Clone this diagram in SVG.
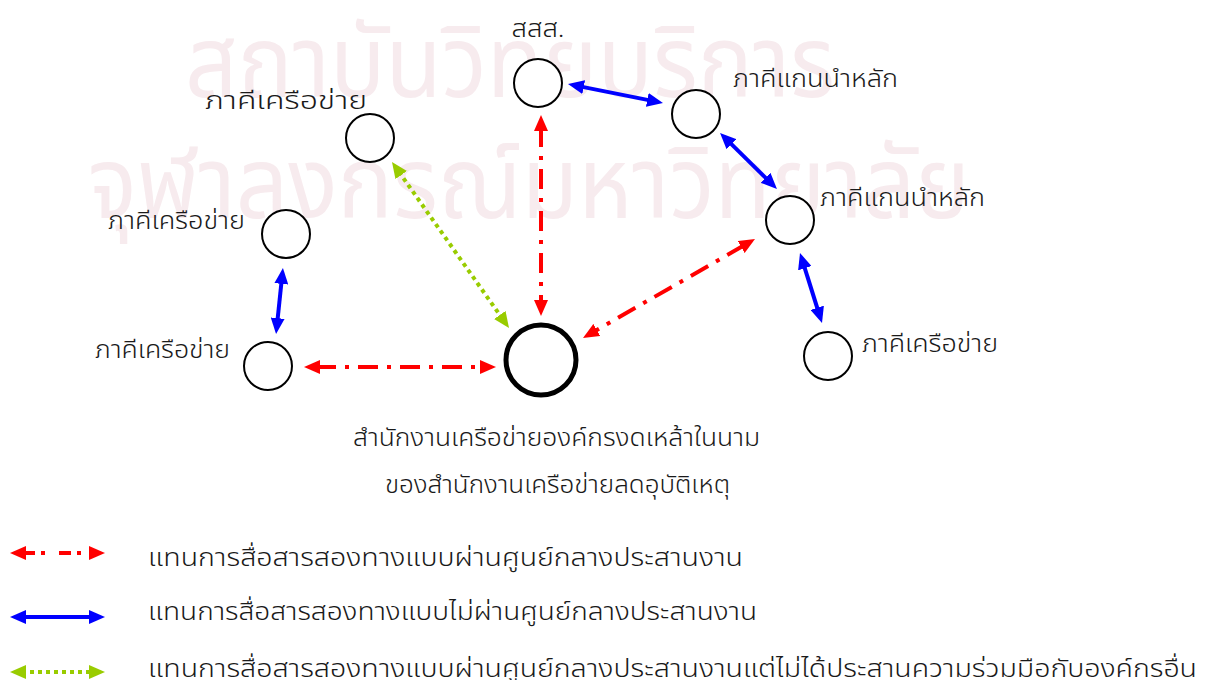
<svg xmlns="http://www.w3.org/2000/svg" width="1215" height="680" viewBox="0 0 1215 680">
<style>
text{font-family:"Noto Sans Thai","Loma","Garuda","Noto Sans","DejaVu Sans",sans-serif;fill:#1a1a1a;font-size:24px;font-weight:300}
.wm{fill:#f7ebee;font-size:100px;font-weight:400}
.n{fill:#fff;stroke:#000;stroke-width:2}
.big{fill:#fff;stroke:#000;stroke-width:5}
.red{stroke:#ff0000;stroke-width:4;fill:none;stroke-dasharray:20 9 4 9}
.blue{stroke:#0000ff;stroke-width:4;fill:none}
.green{stroke:#99cc00;stroke-width:4;fill:none;stroke-dasharray:4 4}
</style>
<defs>
<marker id="hr" viewBox="0 0 16 14" refX="4" refY="7" markerWidth="16" markerHeight="14" markerUnits="userSpaceOnUse" orient="auto-start-reverse"><path d="M0,0 L16,7 L0,14 z" fill="#ff0000"/></marker>
<marker id="hb" viewBox="0 0 16 14" refX="4" refY="7" markerWidth="16" markerHeight="14" markerUnits="userSpaceOnUse" orient="auto-start-reverse"><path d="M0,0 L16,7 L0,14 z" fill="#0000ff"/></marker>
<marker id="hg" viewBox="0 0 16 14" refX="4" refY="7" markerWidth="16" markerHeight="14" markerUnits="userSpaceOnUse" orient="auto-start-reverse"><path d="M0,0 L16,7 L0,14 z" fill="#99cc00"/></marker>
</defs>
<rect width="1215" height="680" fill="#fff"/>
<g id="watermark">
<text class="wm" x="185" y="97" textLength="650" lengthAdjust="spacingAndGlyphs">สถาบันวิทยบริการ</text>
<text class="wm" x="88" y="218" textLength="882" lengthAdjust="spacingAndGlyphs">จุฬาลงกรณ์มหาวิทยาลัย</text>
</g>
<g id="connectors">
<line class="red" x1="541" y1="127" x2="541" y2="304" marker-start="url(#hr)" marker-end="url(#hr)"/>
<line class="red" x1="316" y1="367" x2="484" y2="367" marker-start="url(#hr)" marker-end="url(#hr)"/>
<line class="red" x1="744.6" y1="245" x2="593.4" y2="332" marker-start="url(#hr)" marker-end="url(#hr)"/>
<line class="blue" x1="579.8" y1="86.4" x2="651.2" y2="100.6" marker-start="url(#hb)" marker-end="url(#hb)"/>
<line class="blue" x1="728.6" y1="141.4" x2="768.4" y2="180.6" marker-start="url(#hb)" marker-end="url(#hb)"/>
<line class="blue" x1="803.6" y1="264.4" x2="818.4" y2="311.6" marker-start="url(#hb)" marker-end="url(#hb)"/>
<line class="blue" x1="281.7" y1="279.9" x2="277.3" y2="322.1" marker-start="url(#hb)" marker-end="url(#hb)"/>
<line class="green" x1="398.9" y1="171.8" x2="502.1" y2="318.2" marker-start="url(#hg)" marker-end="url(#hg)"/>
</g>
<g id="node-sss"><circle class="n" cx="538" cy="83" r="24"/><text x="538" y="37" text-anchor="middle" textLength="53" lengthAdjust="spacingAndGlyphs">สสส.</text></g>
<g id="node-core1"><circle class="n" cx="696" cy="114" r="24"/><text x="733" y="87" textLength="165" lengthAdjust="spacingAndGlyphs">ภาคีแกนนำหลัก</text></g>
<g id="node-core2"><circle class="n" cx="790" cy="220" r="24"/><text x="820" y="206" textLength="165" lengthAdjust="spacingAndGlyphs">ภาคีแกนนำหลัก</text></g>
<g id="node-net1"><circle class="n" cx="370" cy="138" r="24"/><text x="205" y="109" textLength="162" lengthAdjust="spacingAndGlyphs">ภาคีเครือข่าย</text></g>
<g id="node-net2"><circle class="n" cx="286" cy="234" r="24"/><text x="108" y="229" textLength="137" lengthAdjust="spacingAndGlyphs">ภาคีเครือข่าย</text></g>
<g id="node-net3"><circle class="n" cx="268" cy="366" r="24"/><text x="95" y="358" textLength="135" lengthAdjust="spacingAndGlyphs">ภาคีเครือข่าย</text></g>
<g id="node-net4"><circle class="n" cx="828" cy="356" r="24"/><text x="862" y="352" textLength="136" lengthAdjust="spacingAndGlyphs">ภาคีเครือข่าย</text></g>
<g id="node-center"><circle class="big" cx="541" cy="360" r="35"/>
<text x="353" y="446" textLength="407" lengthAdjust="spacingAndGlyphs">สำนักงานเครือข่ายองค์กรงดเหล้าในนาม</text>
<text x="385" y="493" textLength="345" lengthAdjust="spacingAndGlyphs">ของสำนักงานเครือข่ายลดอุบัติเหตุ</text></g>
<g id="legend">
<line class="red" x1="22" y1="553" x2="93" y2="553" style="stroke-dasharray:12 6 4 14;stroke-dashoffset:-1" marker-start="url(#hr)" marker-end="url(#hr)"/>
<line class="blue" x1="22" y1="617" x2="93" y2="617" marker-start="url(#hb)" marker-end="url(#hb)"/>
<line class="green" x1="22" y1="672" x2="93" y2="672" marker-start="url(#hg)" marker-end="url(#hg)"/>
<text x="148" y="566" textLength="595" lengthAdjust="spacingAndGlyphs">แทนการสื่อสารสองทางแบบผ่านศูนย์กลางประสานงาน</text>
<text x="148" y="620" textLength="609" lengthAdjust="spacingAndGlyphs">แทนการสื่อสารสองทางแบบไม่ผ่านศูนย์กลางประสานงาน</text>
<text x="148" y="677" textLength="1049" lengthAdjust="spacingAndGlyphs">แทนการสื่อสารสองทางแบบผ่านศูนย์กลางประสานงานแต่ไม่ได้ประสานความร่วมมือกับองค์กรอื่น</text>
</g>
</svg>
